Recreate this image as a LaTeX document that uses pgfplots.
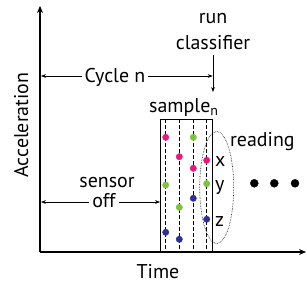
\documentclass[border=0pt]{standalone}
\usepackage{pgfplots}
\pgfplotsset{compat=1.18}
\usepackage{fontspec}
\setmainfont{PT Sans}
\usetikzlibrary{arrows.meta}
\definecolor{cpink}{HTML}{E6197F}
\definecolor{cgreen}{HTML}{7DC242}
\definecolor{cblue}{HTML}{2E3192}
\tikzset{lbl/.style={font=\fontsize{20}{22}\selectfont, inner sep=0pt}}
\begin{document}
\begin{tikzpicture}
\begin{axis}[
  scale only axis, width=307bp, height=285bp,
  xmin=0, xmax=307, ymin=0, ymax=285, y dir=reverse,
  hide axis, clip=false,
]
\path (axis cs:0,0) rectangle (axis cs:307,285);
% axes
\draw[line width=1.4pt, -{Stealth[length=7pt,width=6pt]}] (axis cs:40,252) -- (axis cs:40,6);
\draw[line width=1.4pt, -{Stealth[length=7pt,width=6pt]}] (axis cs:40,252) -- (axis cs:306,252);
% box
\addplot[black, line width=0.7pt] coordinates {(160.7,252) (160.7,119.3) (212.7,119.3) (212.7,252)};
% dashed lines
\addplot[black, dash pattern=on 4pt off 2pt, line width=0.5pt] coordinates {(165.7,119.3) (165.7,252)};
\addplot[black, dash pattern=on 4pt off 2pt, line width=0.5pt] coordinates {(179.3,119.3) (179.3,252)};
\addplot[black, dash pattern=on 4pt off 2pt, line width=0.5pt] coordinates {(193.3,119.3) (193.3,252)};
\addplot[black, dash pattern=on 4pt off 2pt, line width=0.5pt] coordinates {(206.7,119.3) (206.7,252)};
% dots
\addplot[only marks, mark=*, mark size=3.2pt, cpink, mark options={draw=none}] coordinates {(165.7,137.3) (179.3,156.7) (193.3,168.3) (206.7,160.3)};
\addplot[only marks, mark=*, mark size=3.2pt, cgreen, mark options={draw=none}] coordinates {(165.7,185) (179.3,207.3) (193.3,137.3) (206.7,183.7)};
\addplot[only marks, mark=*, mark size=3.2pt, cblue, mark options={draw=none}] coordinates {(165.7,232.3) (179.3,239.3) (193.3,198.3) (206.7,219.3)};
% big dots
\addplot[only marks, mark=*, mark size=4pt, black] coordinates {(254.3,183.3) (274.3,183.3) (295,183.3)};
% ellipse
\draw[densely dotted, line width=0.6pt] (axis cs:216.7,187.5) ellipse [x radius=17bp, y radius=56bp];
% annotation arrows
\draw[line width=0.6pt, {Stealth[length=5pt]}-{Stealth[length=5pt]}] (axis cs:41,76) -- (axis cs:212.7,76);
\draw[line width=0.6pt, {Stealth[length=5pt]}-{Stealth[length=5pt]}] (axis cs:41,202) -- (axis cs:160,202);
\draw[line width=0.6pt, -{Stealth[length=5pt]}] (axis cs:213,55) -- (axis cs:213,92);
% texts
\node[lbl, anchor=base, rotate=90] at (axis cs:28,125) {Acceleration};
\node[lbl, anchor=base] at (axis cs:158,278) {Time};
\node[lbl, anchor=base, fill=white, inner xsep=3pt] at (axis cs:115,82) {Cycle n};
\node[lbl, anchor=base] at (axis cs:213,24) {run};
\node[lbl, anchor=base] at (axis cs:213,49) {classifier};
\node[lbl, anchor=base west] at (axis cs:149,112) {sample\textsubscript{n}};
\node[lbl, anchor=base] at (axis cs:107,187) {sensor};
\node[lbl, anchor=base, fill=white, inner xsep=3pt] at (axis cs:104,207) {off};
\node[lbl, anchor=base west] at (axis cs:230,146.5) {reading};
\node[lbl, anchor=base west] at (axis cs:215,166) {x};
\node[lbl, anchor=base west] at (axis cs:215,190) {y};
\node[lbl, anchor=base west] at (axis cs:215,226) {z};
\end{axis}
\end{tikzpicture}
\end{document}
